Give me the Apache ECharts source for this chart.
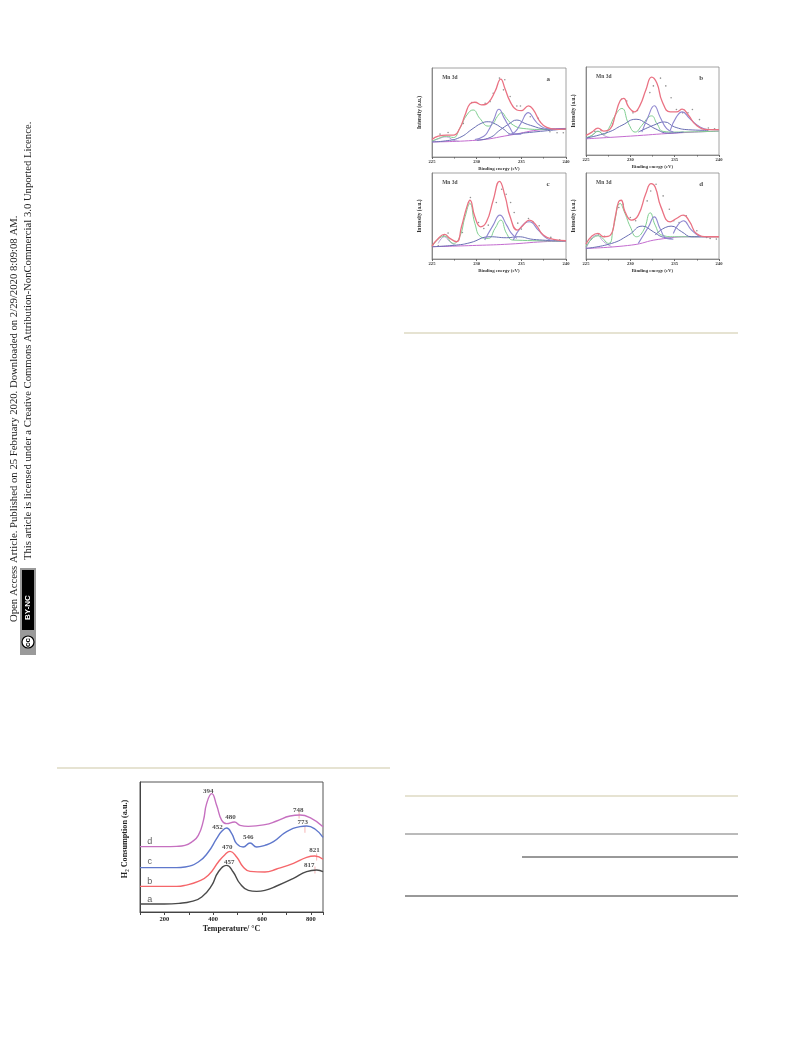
<!DOCTYPE html>
<html><head><meta charset="utf-8">
<style>html,body{margin:0;padding:0;background:#fff}#c{width:793px;height:1039px;filter:blur(0.6px)}</style>
<script src="https://cdn.jsdelivr.net/npm/echarts@6/dist/echarts.min.js"></script>
</head><body><div id="c"></div>
<script>
// TPR panel
const tprAT=[100,200,260,312,353,394,421,455,482,510,544,578,612,660,729,783,824,850];
const tprA=[24,24,26,32,45,80,120,140,120,85,65,62,65,78,101,121,126,121];
const tprBT=[100,200,250,284,339,380,421,448,469,496,523,551,612,660,729,783,817,850];
const tprB=[77,77,77,80,92,110,150,172,182,165,135,122,120,129,146,164,168,158];
const tprCT=[100,200,250,284,339,380,414,435,455,476,496,523,551,578,612,647,701,756,783,817,850];
const tprC=[133,133,133,135,150,180,220,242,252,235,205,195,207,195,200,211,241,256,258,249,224];
const tprDT=[100,200,250,284,312,339,360,373,394,414,435,455,487,510,544,612,660,715,756,797,850];
const tprD=[196,196,197,200,210,230,275,325,355,320,275,265,270,260,257,262,273,288,291,283,256];
const tprNames=['a','b','c','d'];
const tprNamePos=[[140,38],[140,92],[140,152],[140,212]];
const peakLabels=['394','480','748','773','452','546','470','821','457','817'];
const peakT=[380,471,749,767,418,544,458,815,466,794];
const peakV=[363,283,306,268,253,223,193,184,150,141];
const markT=[752,776,824,817];
const markV=[291,248,165,126];
// XPS panels: [binding energy, intensity]
const aEnv=[[225,52],[225.7,62],[226.6,65],[227.4,65],[228.1,85],[228.7,125],[229.25,158],[229.8,163],[230.55,155],[231.3,162],[232.05,195],[232.7,232],[233.15,205],[233.75,165],[234.5,140],[235,138],[235.8,152],[236.35,140],[237.1,105],[237.85,88],[239,82],[240,84]];
const aGreen=[[225,47],[225.7,55],[226.6,62],[227.4,58],[228.1,85],[228.9,125],[229.6,140],[230.35,115],[231.3,92],[231.85,100],[232.3,120],[232.8,132],[233.35,115],[234.1,95],[235.2,85],[237.4,82],[240,82]];
const aBroad1=[[225,45],[226.5,48],[228.1,58],[229.6,85],[230.5,100],[231.3,105],[232.1,98],[232.9,85],[234,68],[235.5,72],[240,84]];
const aBroad2=[[230,50],[231.5,58],[232.6,80],[233.6,98],[234.5,110],[235.4,100],[236.3,92],[237.2,85],[238,83],[240,84]];
const aSharp1=[[229.8,52],[230.8,62],[231.3,78],[231.9,110],[232.5,142],[233.1,115],[233.7,88],[234.3,68],[235,68]];
const aSharp2=[[233.5,65],[234.3,75],[234.9,98],[235.8,132],[236.5,110],[236.9,98],[237.8,85],[238.8,83]];
const aBump=[[225,46],[225.8,55],[226.6,60],[227.4,50],[228,47]];
const aBase=[[225,45],[230,50],[233.7,65],[237.5,82],[240,85]];
const aDots=[[225.9,68],[226.8,73],[228.5,100],[229.45,162],[230.95,160],[231.5,165],[231.85,190],[233,200],[232.55,235],[233.15,230],[233.75,180],[234.5,152],[234.9,152],[236,120],[236.9,115],[238.2,75],[239,72],[239.7,72]];

const bEnv=[[225,58],[225.67,68],[226.35,80],[227,71],[227.75,78],[228.3,118],[228.85,161],[229.25,168],[229.8,143],[230.45,128],[231.1,148],[231.75,193],[232.4,231],[233,213],[233.6,158],[234.5,128],[235.2,128],[235.85,136],[236.55,118],[237.45,88],[238.8,75],[240,75]];
const bGreen=[[225,51],[225.67,58],[226.35,70],[227,61],[227.55,78],[228.3,118],[229.05,138],[229.8,93],[230.55,68],[231.3,88],[232,111],[232.4,116],[233,93],[233.7,70],[235,68],[240,71]];
const bBroad1=[[225,50],[227.55,68],[229.05,88],[230.65,106],[231.85,93],[232.8,78],[234.3,65],[236,68]];
const bBroad2=[[230.9,68],[232.6,88],[233.85,98],[235,83],[236.55,75],[238.8,73]];
const bSharp1=[[231.3,68],[232,113],[232.7,146],[233.35,113],[234.1,78],[234.85,68]];
const bSharp2=[[234.5,73],[235.2,113],[235.85,128],[236.7,108],[237.85,83],[238.8,75]];
const bBump=[[225,50],[225.67,58],[226.35,71],[227,58],[227.75,52]];
const bBase=[[225,48],[230,56],[235,65],[240,71]];
const bDots=[[226,70],[226.7,72],[228,92],[229,165],[229.6,160],[230.3,125],[230.8,132],[232.2,185],[232.6,205],[233.4,228],[234,205],[234.6,170],[235.2,135],[235.9,125],[236.5,125],[237,135],[237.8,105],[238.8,80],[239.5,78]];

const cEnv=[[225,39],[225.7,62],[226.4,74],[227,62],[227.75,52],[228.3,97],[228.9,157],[229.25,177],[229.8,127],[230.45,97],[231.1,112],[231.85,177],[232.55,234],[233.2,187],[233.75,127],[234.55,87],[235.2,102],[235.9,117],[236.65,102],[237.45,72],[238.6,59],[240,55]];
const cGreen=[[225,37],[226.4,69],[227.4,47],[228.1,67],[228.7,127],[229.25,167],[229.8,107],[230.45,67],[231.3,62],[232.05,92],[232.7,117],[233.35,77],[234.1,57],[240,54]];
const cBroad=[[225,37],[227.75,42],[229.25,49],[231.5,67],[233.35,64],[234.65,67],[236.35,59],[240,54]];
const cSharp1=[[230.9,57],[231.85,102],[232.6,132],[233.35,102],[233.9,77],[234.5,62]];
const cSharp2=[[234.1,57],[235,97],[235.9,112],[236.9,87],[237.85,62],[238.6,55]];
const cBump=[[225.7,47],[226.4,67],[227,52],[227.75,39]];
const cBase=[[225,37],[230,41],[233.75,45],[237.45,52],[240,54]];
const cDots=[[225.7,40],[226.3,70],[226.8,78],[228.4,80],[229.1,170],[229.3,185],[230.2,110],[230.8,92],[231.3,102],[232.2,170],[232.8,210],[233.3,195],[233.8,170],[234.2,140],[234.6,108],[235,90],[235.8,122],[236.3,112],[237,100],[238.3,65],[239.3,58]];

const dEnv=[[225,45],[225.67,69],[226.35,77],[227,67],[227.75,72],[228.3,127],[228.67,172],[228.97,177],[229.4,142],[230.15,117],[230.9,132],[231.75,197],[232.35,227],[232.8,217],[233.45,157],[234.5,112],[235.2,122],[235.95,132],[236.7,112],[237.45,77],[238.8,67],[240,67]];
const dGreen=[[225,37],[226.35,70],[227.55,47],[228.1,97],[228.85,167],[229.4,137],[230,97],[230.7,67],[231.5,87],[232.25,139],[232.8,102],[233.55,72],[235,67],[240,67]];
const dBroad1=[[225,32],[227.9,47],[229.8,72],[231.35,99],[232.6,82],[233.55,67],[234.65,62]];
const dBroad2=[[232.8,72],[234.6,99],[235.8,82],[236.9,67],[238.8,67]];
const dSharp1=[[230.9,47],[232.05,97],[232.7,127],[233.35,92],[234.1,62],[234.85,60]];
const dSharp2=[[234.85,77],[236,115],[236.9,87],[237.85,67]];
const dBump=[[225,32],[226.25,72],[227,52],[227.9,37]];
const dBase=[[225,32],[230.15,42],[233.15,59],[236.9,67],[240,67]];
const dDots=[[225.6,60],[226.4,75],[227.1,68],[228.7,155],[229.2,165],[230,125],[230.6,115],[231.9,175],[232.3,205],[232.9,225],[233.7,190],[234.4,150],[234.9,115],[235.5,110],[236.3,130],[237.5,85],[238.6,65],[239,62],[239.7,60]];

const xpsTicks=[225,230,235,240];
const serif='"Liberation Serif","Times New Roman",serif';
const panels=[
 {tag:'a',box:[432,68,134,89],ymax:265,env:aEnv,green:aGreen,broad:[aBroad1,aBroad2],sharp:[aSharp1,aSharp2],bump:aBump,base:aBase,dots:aDots},
 {tag:'b',box:[586,67,133,88],ymax:261,env:bEnv,green:bGreen,broad:[bBroad1,bBroad2],sharp:[bSharp1,bSharp2],bump:bBump,base:bBase,dots:bDots},
 {tag:'c',box:[432,173,134,86],ymax:259,env:cEnv,green:cGreen,broad:[cBroad],sharp:[cSharp1,cSharp2],bump:cBump,base:cBase,dots:cDots},
 {tag:'d',box:[586,173,133,86],ymax:259,env:dEnv,green:dGreen,broad:[dBroad1,dBroad2],sharp:[dSharp1,dSharp2],bump:dBump,base:dBase,dots:dDots}
];
const grids=[],xAxes=[],yAxes=[],series=[];
// TPR
grids.push({left:140,top:782,width:183,height:130,show:true,borderColor:'#555',borderWidth:1});
xAxes.push({type:'value',gridIndex:0,min:100,max:850,interval:100,splitLine:{show:false},
 axisLine:{lineStyle:{color:'#444',width:1}},axisTick:{length:3,lineStyle:{color:'#444'}},showMaxLabel:false,
 axisLabel:{margin:4,fontFamily:serif,fontWeight:'bold',fontSize:6.5,color:'#222',formatter:v=>v%200===0?String(v):''},
 name:'Temperature/ °C',nameLocation:'middle',nameGap:13,nameTextStyle:{fontFamily:serif,fontWeight:'bold',fontSize:8,color:'#222'}});
yAxes.push({type:'value',gridIndex:0,min:0,max:390,splitLine:{show:false},axisTick:{show:false},axisLabel:{show:false},
 axisLine:{lineStyle:{color:'#444'}},name:'H₂ Consumption (a.u.)',nameLocation:'middle',nameGap:11,nameRotate:90,
 nameTextStyle:{fontFamily:serif,fontWeight:'bold',fontSize:8.2,color:'#222',padding:[0,0,0,16]}});
[[tprAT,tprA,'#4a4a4a'],[tprBT,tprB,'#f5666a'],[tprCT,tprC,'#5f78cc'],[tprDT,tprD,'#c670c0']].forEach(([x,v,col])=>{
 series.push({type:'line',xAxisIndex:0,yAxisIndex:0,data:x.map((t,i)=>[t,v[i]]),smooth:0.5,showSymbol:false,symbol:'none',lineStyle:{color:col,width:1.4}});
});
series.push({type:'scatter',xAxisIndex:0,yAxisIndex:0,symbol:'rect',symbolSize:[1,7],itemStyle:{color:'#f2a0a0'},data:markT.map((t,i)=>[t,markV[i]])});
series.push({type:'scatter',xAxisIndex:0,yAxisIndex:0,symbolSize:0,data:peakT.map((t,i)=>[t,peakV[i],peakLabels[i]]),
 label:{show:true,position:'inside',formatter:p=>p.value[2],fontFamily:serif,fontWeight:'bold',fontSize:7,color:'#222'}});
series.push({type:'scatter',xAxisIndex:0,yAxisIndex:0,symbolSize:0,data:tprNamePos.map((p,i)=>[p[0],p[1],tprNames[i]]),
 label:{show:true,position:'inside',formatter:p=>p.value[2],fontFamily:'"Liberation Sans",Arial,sans-serif',fontSize:9,color:'#333'}});
// XPS
panels.forEach((p,k)=>{
 const g=k+1,[l,t,w,h]=p.box;
 grids.push({left:l,top:t,width:w,height:h,show:true,borderColor:'#8a8a8a',borderWidth:0.8});
 xAxes.push({type:'value',gridIndex:g,min:225,max:240,interval:5,splitLine:{show:false},minorTick:{show:true,splitNumber:2,length:1.5,lineStyle:{color:'#666'}},
  axisLine:{lineStyle:{color:'#777',width:0.8}},axisTick:{length:2,lineStyle:{color:'#666'}},
  axisLabel:{margin:2,fontFamily:serif,fontWeight:'bold',fontSize:4.6,color:'#333',formatter:v=>xpsTicks.includes(v)?String(v):''},
  name:'Binding energy (eV)',nameLocation:'middle',nameGap:9.5,nameTextStyle:{fontFamily:serif,fontWeight:'bold',fontSize:4.8,color:'#333'}});
 yAxes.push({type:'value',gridIndex:g,min:0,max:p.ymax,splitLine:{show:false},axisTick:{show:false},axisLabel:{show:false},
  axisLine:{lineStyle:{color:'#777',width:0.8}},name:'Intensity (a.u.)',nameLocation:'middle',nameGap:10,nameRotate:90,
  nameTextStyle:{fontFamily:serif,fontWeight:'bold',fontSize:5.3,color:'#333'}});
 const ln=(d,col,wd)=>series.push({type:'line',xAxisIndex:g,yAxisIndex:g,data:d,smooth:0.5,showSymbol:false,symbol:'none',lineStyle:{color:col,width:wd}});
 ln(p.base,'#c46cd0',1);
 ln(p.bump,'#b292d0',0.9);
 ln(p.green,'#7fcf90',1);
 p.broad.forEach(d=>ln(d,'#6a6fb4',1));
 p.sharp.forEach(d=>ln(d,'#9088d0',1.1));
 series.push({type:'scatter',xAxisIndex:g,yAxisIndex:g,data:p.dots,symbolSize:1.6,itemStyle:{color:'#777'}});
 ln(p.env,'#ea7283',1.3);
 series.push({type:'scatter',xAxisIndex:g,yAxisIndex:g,symbolSize:0,data:[[227,p.ymax*0.89,'Mn 3d']],
  label:{show:true,position:'inside',formatter:q=>q.value[2],fontFamily:serif,fontWeight:'bold',fontSize:5.5,color:'#222'}});
 series.push({type:'scatter',xAxisIndex:g,yAxisIndex:g,symbolSize:0,data:[[238,p.ymax*0.87,p.tag]],
  label:{show:true,position:'inside',formatter:q=>q.value[2],fontFamily:serif,fontWeight:'bold',fontSize:7,color:'#222'}});
});
const rules=[[404,333,738,'#e6e3d2',2],[57,768,390,'#e6e3d2',2],[405,796,738,'#e6e3d2',2],[405,834,738,'#777',1],[522,857,738,'#333',1],[405,896,738,'#333',1]];
const graphic=rules.map(r=>({type:'line',silent:true,shape:{x1:r[0],y1:r[1],x2:r[2],y2:r[1]},style:{stroke:r[3],lineWidth:r[4]}}));
const rotText=(s,x,y,font,fill)=>({type:'text',silent:true,x,y,rotation:Math.PI/2,style:{text:s,font,fill,textAlign:'left',textVerticalAlign:'middle'}});
graphic.push(rotText('Open Access Article. Published on 25 February 2020. Downloaded on 2/29/2020 8:09:08 AM.',14,622,'10.72px '+serif,'#222'));
graphic.push(rotText('This article is licensed under a Creative Commons Attribution-NonCommercial 3.0 Unported Licence.',28,560,'10.68px '+serif,'#222'));
graphic.push({type:'rect',silent:true,shape:{x:20,y:568,width:16,height:87},style:{fill:'#9a9a9a'}});
graphic.push({type:'rect',silent:true,shape:{x:22,y:570,width:12,height:60},style:{fill:'#000'}});
graphic.push({type:'circle',silent:true,shape:{cx:28,cy:642,r:6},style:{fill:'#fff',stroke:'#000',lineWidth:1.2}});
graphic.push(rotText('cc',28,647,'bold 8px "Liberation Sans",sans-serif','#000'));
graphic.push(rotText('BY-NC',28,620,'bold 8px "Liberation Sans",sans-serif','#fff'));
const chart=echarts.init(document.getElementById('c'),null,{renderer:'canvas'});
chart.setOption({animation:false,backgroundColor:'#fff',tooltip:{show:false},grid:grids,xAxis:xAxes,yAxis:yAxes,series,graphic});
</script></body></html>
